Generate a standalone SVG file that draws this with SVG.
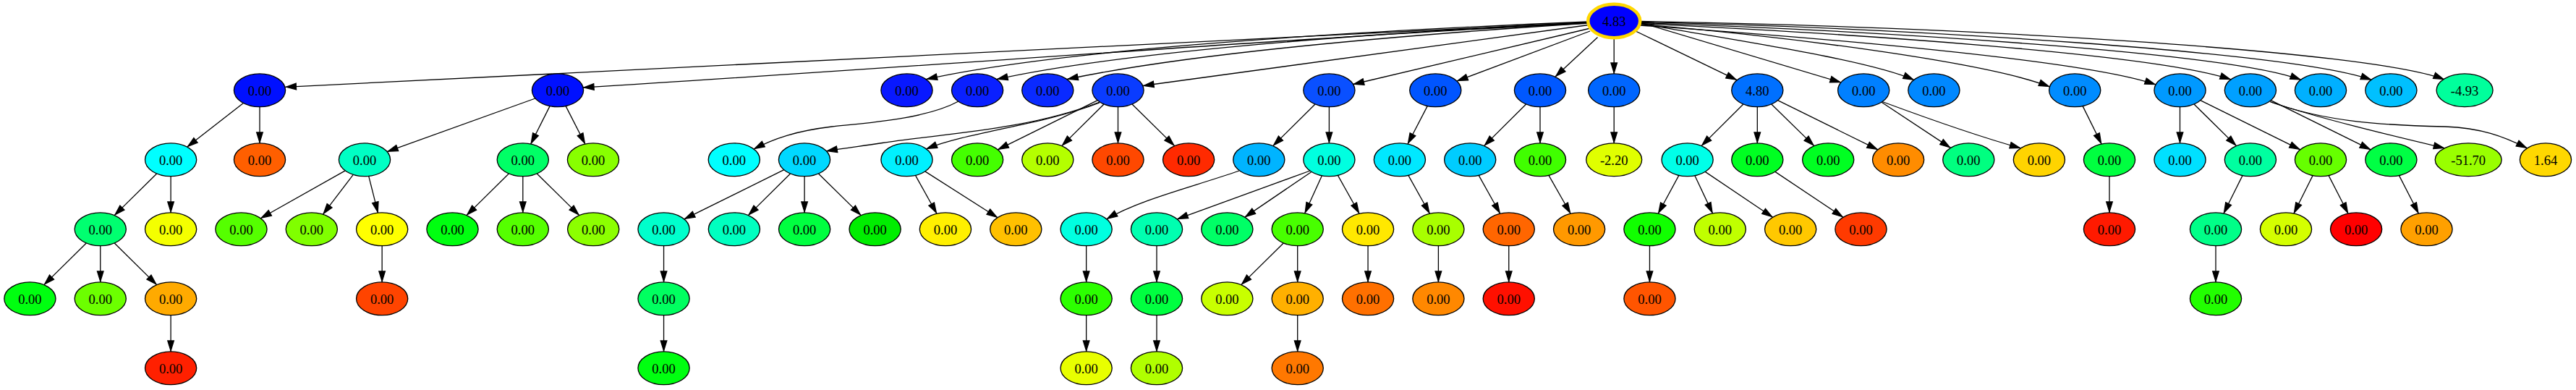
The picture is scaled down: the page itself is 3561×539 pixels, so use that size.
<svg xmlns="http://www.w3.org/2000/svg" width="3561" height="539" viewBox="0 0 3561 539">
<style>
.node ellipse{stroke:#000;stroke-width:1.3}
.node text{font-family:"Liberation Serif","Times New Roman",serif;font-size:18.5px;text-anchor:middle;fill:#000}
#edges path{fill:none;stroke:#000;stroke-width:1.3;marker-end:url(#arr)}
#n0 ellipse{stroke:#ffd700;stroke-width:4.5}
</style>
<defs>
<marker id="arr" markerUnits="userSpaceOnUse" markerWidth="18" markerHeight="12" viewBox="-16 -6 18 12" refX="0" refY="0" orient="auto">
<path d="M-15,-4.3 L-1.2,0 L-15,4.3 z" fill="#000" stroke="#000" stroke-width="1.3"/>
</marker>
</defs>
<rect width="3561" height="539" fill="#fff"/>
<g id="edges">
<!-- root to rank1 -->
<path d="M2195.5,31 L394.4,120.3"/>
<path d="M2195.5,32 C1800,51.5 1300,90.5 806,121"/>
<path d="M2195.5,30 C1800,46 1450,72 1280.5,109.5"/>
<path d="M2195.5,31 C1850,48 1540,74 1378,109.5"/>
<path d="M2195.5,32 C1900,51 1630,77 1475.2,109.5"/>
<path d="M2196,34.5 L1580,118.5"/>
<path d="M2196.5,39.5 L1870.5,116.5"/>
<path d="M2198,43 L2014,112"/>
<path d="M2208.5,51.5 L2150,106"/>
<path d="M2231.2,52.2 L2231.2,101.9"/>
<path d="M2261,43 L2401,110.6"/>
<path d="M2267,31 L2545,114"/>
<path d="M2267,32.5 C2400,56 2580,82 2646,110.5"/>
<path d="M2267,33.5 C2480,51 2750,87 2833.5,120"/>
<path d="M2267,35 C2500,51 2880,82 2980,117"/>
<path d="M2267,32.5 C2550,46 2980,74 3084,110"/>
<path d="M2267,31.5 C2600,43 3080,72 3181,110.5"/>
<path d="M2267,30.5 C2650,39 3170,72 3278.5,110.5"/>
<path d="M2267,29.5 C2700,36 3280,70 3379,110"/>
<!-- rank1 to rank2 -->
<path d="M336.4,142.5 L258.7,203.1"/>
<path d="M359,147.7 L359,197.9"/>
<path d="M739.9,136 L535.1,209.6"/>
<path d="M760.1,146.6 L733.7,199"/>
<path d="M782.1,146.6 L808.9,199"/>
<path d="M1326,139.5 C1280,164.6 1200,169.8 1150,175 C1100,181 1070,191.4 1042,206"/>
<path d="M1520,141 C1420,180 1300,185 1220,197.5 C1190,202 1165,205 1142.3,208.8"/>
<path d="M1520,142 C1440,173 1340,182 1280.4,205.8"/>
<path d="M1517.3,138.7 L1379.3,206.9"/>
<path d="M1526,144 L1467.8,201.6"/>
<path d="M1545.5,147.7 L1545.5,197.9"/>
<path d="M1565,144 L1623.6,201.6"/>
<path d="M1818,144 L1759.8,201.6"/>
<path d="M1837.4,147.7 L1837.4,197.9"/>
<path d="M1973.2,146.6 L1946,199"/>
<path d="M2109.6,144 L2051.6,201.6"/>
<path d="M2129,147.7 L2129,197.9"/>
<path d="M2231.2,147.7 L2231.2,197.9"/>
<path d="M2409.9,144 L2352,201.6"/>
<path d="M2429.3,147.7 L2429.3,197.9"/>
<path d="M2448.8,144 L2507.8,201.6"/>
<path d="M2457.5,138.7 L2595.9,206.9"/>
<path d="M2601,141.2 L2696.5,204.4"/>
<path d="M2602,140.5 C2660,162 2740,190 2793.4,204.8"/>
<path d="M2879.1,146.6 L2905.1,199"/>
<path d="M3013.5,147.7 L3013.5,197.9"/>
<path d="M3033,144 L3091.5,201.6"/>
<path d="M3041.7,138.7 L3179.8,206.9"/>
<path d="M3139.1,138.7 L3277.2,206.9"/>
<path d="M3138,140.5 C3200,162 3300,186 3379.3,204.8"/>
<path d="M3139,141 C3220,170 3300,173 3380,175 C3430,177 3460,188 3493.5,204.8"/>
<!-- rank2 to rank3 -->
<path d="M216.65,240 L158.2,297.6"/>
<path d="M236.1,243.7 L236.1,293.9"/>
<path d="M477.2,235.9 L360.25,301.7"/>
<path d="M488.3,241.4 L446.5,296.2"/>
<path d="M509.7,243.4 L522.5,294.2"/>
<path d="M703.35,240 L644.95,297.6"/>
<path d="M722.8,243.7 L722.8,293.9"/>
<path d="M742.25,240 L800.75,297.6"/>
<path d="M1083.8,234.7 L945.8,302.9"/>
<path d="M1092.55,240 L1034.35,297.6"/>
<path d="M1112.1,243.7 L1112.1,293.9"/>
<path d="M1131.45,240 L1190.15,297.6"/>
<path d="M1265.5,242.4 L1294.95,295.2"/>
<path d="M1278.8,236.9 L1379,300.7"/>
<path d="M1713,236 C1650,258 1575,276 1529.8,302.8"/>
<path d="M1811,236 L1627.2,302.8"/>
<path d="M1812.95,237.45 L1720.8,300.15"/>
<path d="M1827.4,242.8 L1803.7,294.8"/>
<path d="M1849.4,242.4 L1879.05,295.2"/>
<path d="M1946.9,242.4 L1976.4,295.2"/>
<path d="M2044.2,242.4 L2073.75,295.2"/>
<path d="M2141,242.4 L2171.1,295.2"/>
<path d="M2320.85,242.4 L2292.2,295.2"/>
<path d="M2342.9,242.7 L2367.5,294.9"/>
<path d="M2357.2,237.35 L2450.55,300.25"/>
<path d="M2453.9,237.35 L2547.9,300.25"/>
<path d="M2916,243.7 L2916,293.9"/>
<path d="M3100,242.6 L3073.9,295"/>
<path d="M3197.1,242.6 L3170.9,295"/>
<path d="M3219.1,242.6 L3246,295"/>
<path d="M3316.5,242.6 L3343.4,295"/>
<!-- rank3 to rank4 -->
<path d="M119.3,336 L60.85,393.6"/>
<path d="M138.75,339.7 L138.75,389.9"/>
<path d="M158.2,336 L216.65,393.6"/>
<path d="M528.15,339.7 L528.15,389.9"/>
<path d="M917.55,339.7 L917.55,389.9"/>
<path d="M1501.65,339.7 L1501.65,389.9"/>
<path d="M1599,339.7 L1599,389.9"/>
<path d="M1774.25,336 L1715.8,393.6"/>
<path d="M1793.7,339.7 L1793.7,389.9"/>
<path d="M1891.05,339.7 L1891.05,389.9"/>
<path d="M1988.4,339.7 L1988.4,389.9"/>
<path d="M2085.75,339.7 L2085.75,389.9"/>
<path d="M2280.45,339.7 L2280.45,389.9"/>
<path d="M3063,339.7 L3063,389.9"/>
<!-- rank4 to rank5 -->
<path d="M236.1,435.7 L236.1,485.9"/>
<path d="M917.55,435.7 L917.55,485.9"/>
<path d="M1501.65,435.7 L1501.65,485.9"/>
<path d="M1599,435.7 L1599,485.9"/>
<path d="M1793.7,435.7 L1793.7,485.9"/>
</g>
<g id="n0" class="node"><ellipse cx="2231.2" cy="29" rx="36" ry="23.2" fill="#0000ff"/><text x="2231.2" y="35.8">4.83</text></g>
<g id="n1" class="node"><ellipse cx="359" cy="124.8" rx="35.6" ry="22.9" fill="#0010ff"/><text x="359" y="131.6">0.00</text></g>
<g id="n2" class="node"><ellipse cx="771" cy="124.8" rx="35.6" ry="22.9" fill="#0010ff"/><text x="771" y="131.6">0.00</text></g>
<g id="n3" class="node"><ellipse cx="1253.5" cy="124.8" rx="35.6" ry="22.9" fill="#0818ff"/><text x="1253.5" y="131.6">0.00</text></g>
<g id="n4" class="node"><ellipse cx="1351.1" cy="124.8" rx="35.6" ry="22.9" fill="#0a20ff"/><text x="1351.1" y="131.6">0.00</text></g>
<g id="n5" class="node"><ellipse cx="1448.3" cy="124.8" rx="35.6" ry="22.9" fill="#0a2aff"/><text x="1448.3" y="131.6">0.00</text></g>
<g id="n6" class="node"><ellipse cx="1545.5" cy="124.8" rx="35.6" ry="22.9" fill="#0a3cff"/><text x="1545.5" y="131.6">0.00</text></g>
<g id="n7" class="node"><ellipse cx="1837.4" cy="124.8" rx="35.6" ry="22.9" fill="#0a50ff"/><text x="1837.4" y="131.6">0.00</text></g>
<g id="n8" class="node"><ellipse cx="1984.3" cy="124.8" rx="35.6" ry="22.9" fill="#0055ff"/><text x="1984.3" y="131.6">0.00</text></g>
<g id="n9" class="node"><ellipse cx="2129" cy="124.8" rx="35.6" ry="22.9" fill="#0058ff"/><text x="2129" y="131.6">0.00</text></g>
<g id="n10" class="node"><ellipse cx="2231.2" cy="124.8" rx="35.6" ry="22.9" fill="#0066ff"/><text x="2231.2" y="131.6">0.00</text></g>
<g id="n11" class="node"><ellipse cx="2429.3" cy="124.8" rx="35.6" ry="22.9" fill="#0070ff"/><text x="2429.3" y="131.6">4.80</text></g>
<g id="n12" class="node"><ellipse cx="2576.2" cy="124.8" rx="35.6" ry="22.9" fill="#0080ff"/><text x="2576.2" y="131.6">0.00</text></g>
<g id="n13" class="node"><ellipse cx="2673.4" cy="124.8" rx="35.6" ry="22.9" fill="#0088ff"/><text x="2673.4" y="131.6">0.00</text></g>
<g id="n14" class="node"><ellipse cx="2868.2" cy="124.8" rx="35.6" ry="22.9" fill="#008cff"/><text x="2868.2" y="131.6">0.00</text></g>
<g id="n15" class="node"><ellipse cx="3013.5" cy="124.8" rx="35.6" ry="22.9" fill="#0099ff"/><text x="3013.5" y="131.6">0.00</text></g>
<g id="n16" class="node"><ellipse cx="3110.9" cy="124.8" rx="35.6" ry="22.9" fill="#00a0ff"/><text x="3110.9" y="131.6">0.00</text></g>
<g id="n17" class="node"><ellipse cx="3208" cy="124.8" rx="35.6" ry="22.9" fill="#00b0ff"/><text x="3208" y="131.6">0.00</text></g>
<g id="n18" class="node"><ellipse cx="3305.4" cy="124.8" rx="35.6" ry="22.9" fill="#00c0ff"/><text x="3305.4" y="131.6">0.00</text></g>
<g id="n19" class="node"><ellipse cx="3407.1" cy="124.8" rx="39" ry="22.9" fill="#00ff9c"/><text x="3407.1" y="131.6">-4.93</text></g>
<g id="n20" class="node"><ellipse cx="236.1" cy="220.8" rx="35.6" ry="22.9" fill="#00ffff"/><text x="236.1" y="227.6">0.00</text></g>
<g id="n21" class="node"><ellipse cx="359" cy="220.8" rx="35.6" ry="22.9" fill="#ff5f00"/><text x="359" y="227.6">0.00</text></g>
<g id="n22" class="node"><ellipse cx="504" cy="220.8" rx="35.6" ry="22.9" fill="#00ffc4"/><text x="504" y="227.6">0.00</text></g>
<g id="n23" class="node"><ellipse cx="722.8" cy="220.8" rx="35.6" ry="22.9" fill="#00ff66"/><text x="722.8" y="227.6">0.00</text></g>
<g id="n24" class="node"><ellipse cx="820" cy="220.8" rx="35.6" ry="22.9" fill="#88ff00"/><text x="820" y="227.6">0.00</text></g>
<g id="n25" class="node"><ellipse cx="1014.8" cy="220.8" rx="35.6" ry="22.9" fill="#00ffff"/><text x="1014.8" y="227.6">0.00</text></g>
<g id="n26" class="node"><ellipse cx="1112" cy="220.8" rx="35.6" ry="22.9" fill="#00d8ff"/><text x="1112" y="227.6">0.00</text></g>
<g id="n27" class="node"><ellipse cx="1253.5" cy="220.8" rx="35.6" ry="22.9" fill="#00f0ff"/><text x="1253.5" y="227.6">0.00</text></g>
<g id="n28" class="node"><ellipse cx="1351.1" cy="220.8" rx="35.6" ry="22.9" fill="#44ff00"/><text x="1351.1" y="227.6">0.00</text></g>
<g id="n29" class="node"><ellipse cx="1448.3" cy="220.8" rx="35.6" ry="22.9" fill="#b4ff00"/><text x="1448.3" y="227.6">0.00</text></g>
<g id="n30" class="node"><ellipse cx="1545.5" cy="220.8" rx="35.6" ry="22.9" fill="#ff4800"/><text x="1545.5" y="227.6">0.00</text></g>
<g id="n31" class="node"><ellipse cx="1643.1" cy="220.8" rx="35.6" ry="22.9" fill="#ff2a00"/><text x="1643.1" y="227.6">0.00</text></g>
<g id="n32" class="node"><ellipse cx="1740.3" cy="220.8" rx="35.6" ry="22.9" fill="#00b4ff"/><text x="1740.3" y="227.6">0.00</text></g>
<g id="n33" class="node"><ellipse cx="1837.4" cy="220.8" rx="35.6" ry="22.9" fill="#00ffe0"/><text x="1837.4" y="227.6">0.00</text></g>
<g id="n34" class="node"><ellipse cx="1934.9" cy="220.8" rx="35.6" ry="22.9" fill="#00e8ff"/><text x="1934.9" y="227.6">0.00</text></g>
<g id="n35" class="node"><ellipse cx="2032.2" cy="220.8" rx="35.6" ry="22.9" fill="#00ccff"/><text x="2032.2" y="227.6">0.00</text></g>
<g id="n36" class="node"><ellipse cx="2129" cy="220.8" rx="35.6" ry="22.9" fill="#40ff00"/><text x="2129" y="227.6">0.00</text></g>
<g id="n37" class="node"><ellipse cx="2231.2" cy="220.8" rx="38.5" ry="22.9" fill="#e0ff00"/><text x="2231.2" y="227.6">-2.20</text></g>
<g id="n38" class="node"><ellipse cx="2332.6" cy="220.8" rx="35.6" ry="22.9" fill="#00ffe8"/><text x="2332.6" y="227.6">0.00</text></g>
<g id="n39" class="node"><ellipse cx="2429.3" cy="220.8" rx="35.6" ry="22.9" fill="#00ff22"/><text x="2429.3" y="227.6">0.00</text></g>
<g id="n40" class="node"><ellipse cx="2527.2" cy="220.8" rx="35.6" ry="22.9" fill="#00ff22"/><text x="2527.2" y="227.6">0.00</text></g>
<g id="n41" class="node"><ellipse cx="2624.1" cy="220.8" rx="35.6" ry="22.9" fill="#ff8c00"/><text x="2624.1" y="227.6">0.00</text></g>
<g id="n42" class="node"><ellipse cx="2721.3" cy="220.8" rx="35.6" ry="22.9" fill="#00ff80"/><text x="2721.3" y="227.6">0.00</text></g>
<g id="n43" class="node"><ellipse cx="2818.9" cy="220.8" rx="35.6" ry="22.9" fill="#ffd400"/><text x="2818.9" y="227.6">0.00</text></g>
<g id="n44" class="node"><ellipse cx="2916" cy="220.8" rx="35.6" ry="22.9" fill="#00ff40"/><text x="2916" y="227.6">0.00</text></g>
<g id="n45" class="node"><ellipse cx="3013.5" cy="220.8" rx="35.6" ry="22.9" fill="#00e0ff"/><text x="3013.5" y="227.6">0.00</text></g>
<g id="n46" class="node"><ellipse cx="3110.9" cy="220.8" rx="35.6" ry="22.9" fill="#00ffa0"/><text x="3110.9" y="227.6">0.00</text></g>
<g id="n47" class="node"><ellipse cx="3208" cy="220.8" rx="35.6" ry="22.9" fill="#66ff00"/><text x="3208" y="227.6">0.00</text></g>
<g id="n48" class="node"><ellipse cx="3305.4" cy="220.8" rx="35.6" ry="22.9" fill="#00ff44"/><text x="3305.4" y="227.6">0.00</text></g>
<g id="n49" class="node"><ellipse cx="3412.2" cy="220.8" rx="46" ry="22.9" fill="#99ff00"/><text x="3412.2" y="227.6">-51.70</text></g>
<g id="n50" class="node"><ellipse cx="3519" cy="220.8" rx="35.6" ry="22.9" fill="#ffd800"/><text x="3519" y="227.6">1.64</text></g>
<g id="n51" class="node"><ellipse cx="138.75" cy="316.8" rx="35.6" ry="22.9" fill="#00ff70"/><text x="138.75" y="323.6">0.00</text></g>
<g id="n52" class="node"><ellipse cx="236.1" cy="316.8" rx="35.6" ry="22.9" fill="#f4ff00"/><text x="236.1" y="323.6">0.00</text></g>
<g id="n53" class="node"><ellipse cx="333.45" cy="316.8" rx="35.6" ry="22.9" fill="#55ff00"/><text x="333.45" y="323.6">0.00</text></g>
<g id="n54" class="node"><ellipse cx="430.8" cy="316.8" rx="35.6" ry="22.9" fill="#80ff00"/><text x="430.8" y="323.6">0.00</text></g>
<g id="n55" class="node"><ellipse cx="528.15" cy="316.8" rx="35.6" ry="22.9" fill="#ffff00"/><text x="528.15" y="323.6">0.00</text></g>
<g id="n56" class="node"><ellipse cx="625.5" cy="316.8" rx="35.6" ry="22.9" fill="#00ff10"/><text x="625.5" y="323.6">0.00</text></g>
<g id="n57" class="node"><ellipse cx="722.8" cy="316.8" rx="35.6" ry="22.9" fill="#55ff00"/><text x="722.8" y="323.6">0.00</text></g>
<g id="n58" class="node"><ellipse cx="820.2" cy="316.8" rx="35.6" ry="22.9" fill="#8cff00"/><text x="820.2" y="323.6">0.00</text></g>
<g id="n59" class="node"><ellipse cx="917.55" cy="316.8" rx="35.6" ry="22.9" fill="#00ffcc"/><text x="917.55" y="323.6">0.00</text></g>
<g id="n60" class="node"><ellipse cx="1014.9" cy="316.8" rx="35.6" ry="22.9" fill="#00ffc0"/><text x="1014.9" y="323.6">0.00</text></g>
<g id="n61" class="node"><ellipse cx="1112.1" cy="316.8" rx="35.6" ry="22.9" fill="#00ff40"/><text x="1112.1" y="323.6">0.00</text></g>
<g id="n62" class="node"><ellipse cx="1209.6" cy="316.8" rx="35.6" ry="22.9" fill="#00ee00"/><text x="1209.6" y="323.6">0.00</text></g>
<g id="n63" class="node"><ellipse cx="1306.95" cy="316.8" rx="35.6" ry="22.9" fill="#fff000"/><text x="1306.95" y="323.6">0.00</text></g>
<g id="n64" class="node"><ellipse cx="1404.3" cy="316.8" rx="35.6" ry="22.9" fill="#ffc000"/><text x="1404.3" y="323.6">0.00</text></g>
<g id="n65" class="node"><ellipse cx="1501.65" cy="316.8" rx="35.6" ry="22.9" fill="#00ffe0"/><text x="1501.65" y="323.6">0.00</text></g>
<g id="n66" class="node"><ellipse cx="1599" cy="316.8" rx="35.6" ry="22.9" fill="#00ffb0"/><text x="1599" y="323.6">0.00</text></g>
<g id="n67" class="node"><ellipse cx="1696.35" cy="316.8" rx="35.6" ry="22.9" fill="#00ff66"/><text x="1696.35" y="323.6">0.00</text></g>
<g id="n68" class="node"><ellipse cx="1793.7" cy="316.8" rx="35.6" ry="22.9" fill="#48ff00"/><text x="1793.7" y="323.6">0.00</text></g>
<g id="n69" class="node"><ellipse cx="1891.05" cy="316.8" rx="35.6" ry="22.9" fill="#ffe800"/><text x="1891.05" y="323.6">0.00</text></g>
<g id="n70" class="node"><ellipse cx="1988.4" cy="316.8" rx="35.6" ry="22.9" fill="#a8ff00"/><text x="1988.4" y="323.6">0.00</text></g>
<g id="n71" class="node"><ellipse cx="2085.75" cy="316.8" rx="35.6" ry="22.9" fill="#ff6600"/><text x="2085.75" y="323.6">0.00</text></g>
<g id="n72" class="node"><ellipse cx="2183.1" cy="316.8" rx="35.6" ry="22.9" fill="#ff9900"/><text x="2183.1" y="323.6">0.00</text></g>
<g id="n73" class="node"><ellipse cx="2280.45" cy="316.8" rx="35.6" ry="22.9" fill="#11ff00"/><text x="2280.45" y="323.6">0.00</text></g>
<g id="n74" class="node"><ellipse cx="2377.8" cy="316.8" rx="35.6" ry="22.9" fill="#c0ff00"/><text x="2377.8" y="323.6">0.00</text></g>
<g id="n75" class="node"><ellipse cx="2475.15" cy="316.8" rx="35.6" ry="22.9" fill="#ffc800"/><text x="2475.15" y="323.6">0.00</text></g>
<g id="n76" class="node"><ellipse cx="2572.5" cy="316.8" rx="35.6" ry="22.9" fill="#ff3a00"/><text x="2572.5" y="323.6">0.00</text></g>
<g id="n77" class="node"><ellipse cx="2916" cy="316.8" rx="35.6" ry="22.9" fill="#ff1a00"/><text x="2916" y="323.6">0.00</text></g>
<g id="n78" class="node"><ellipse cx="3063" cy="316.8" rx="35.6" ry="22.9" fill="#00ff88"/><text x="3063" y="323.6">0.00</text></g>
<g id="n79" class="node"><ellipse cx="3160" cy="316.8" rx="35.6" ry="22.9" fill="#d4ff00"/><text x="3160" y="323.6">0.00</text></g>
<g id="n80" class="node"><ellipse cx="3257.1" cy="316.8" rx="35.6" ry="22.9" fill="#ff0000"/><text x="3257.1" y="323.6">0.00</text></g>
<g id="n81" class="node"><ellipse cx="3354.5" cy="316.8" rx="35.6" ry="22.9" fill="#ffa000"/><text x="3354.5" y="323.6">0.00</text></g>
<g id="n82" class="node"><ellipse cx="41.4" cy="412.8" rx="35.6" ry="22.9" fill="#00ff10"/><text x="41.4" y="419.6">0.00</text></g>
<g id="n83" class="node"><ellipse cx="138.75" cy="412.8" rx="35.6" ry="22.9" fill="#6cff00"/><text x="138.75" y="419.6">0.00</text></g>
<g id="n84" class="node"><ellipse cx="236.1" cy="412.8" rx="35.6" ry="22.9" fill="#ffaa00"/><text x="236.1" y="419.6">0.00</text></g>
<g id="n85" class="node"><ellipse cx="528.15" cy="412.8" rx="35.6" ry="22.9" fill="#ff4400"/><text x="528.15" y="419.6">0.00</text></g>
<g id="n86" class="node"><ellipse cx="917.55" cy="412.8" rx="35.6" ry="22.9" fill="#00ff60"/><text x="917.55" y="419.6">0.00</text></g>
<g id="n87" class="node"><ellipse cx="1501.65" cy="412.8" rx="35.6" ry="22.9" fill="#2cff00"/><text x="1501.65" y="419.6">0.00</text></g>
<g id="n88" class="node"><ellipse cx="1599" cy="412.8" rx="35.6" ry="22.9" fill="#00ff40"/><text x="1599" y="419.6">0.00</text></g>
<g id="n89" class="node"><ellipse cx="1696.35" cy="412.8" rx="35.6" ry="22.9" fill="#c8ff00"/><text x="1696.35" y="419.6">0.00</text></g>
<g id="n90" class="node"><ellipse cx="1793.7" cy="412.8" rx="35.6" ry="22.9" fill="#ffb000"/><text x="1793.7" y="419.6">0.00</text></g>
<g id="n91" class="node"><ellipse cx="1891.05" cy="412.8" rx="35.6" ry="22.9" fill="#ff7000"/><text x="1891.05" y="419.6">0.00</text></g>
<g id="n92" class="node"><ellipse cx="1988.4" cy="412.8" rx="35.6" ry="22.9" fill="#ff8800"/><text x="1988.4" y="419.6">0.00</text></g>
<g id="n93" class="node"><ellipse cx="2085.75" cy="412.8" rx="35.6" ry="22.9" fill="#ff1000"/><text x="2085.75" y="419.6">0.00</text></g>
<g id="n94" class="node"><ellipse cx="2280.45" cy="412.8" rx="35.6" ry="22.9" fill="#ff5500"/><text x="2280.45" y="419.6">0.00</text></g>
<g id="n95" class="node"><ellipse cx="3063" cy="412.8" rx="35.6" ry="22.9" fill="#22ff00"/><text x="3063" y="419.6">0.00</text></g>
<g id="n96" class="node"><ellipse cx="236.1" cy="508.8" rx="35.6" ry="22.9" fill="#ff2000"/><text x="236.1" y="515.6">0.00</text></g>
<g id="n97" class="node"><ellipse cx="917.55" cy="508.8" rx="35.6" ry="22.9" fill="#00ff10"/><text x="917.55" y="515.6">0.00</text></g>
<g id="n98" class="node"><ellipse cx="1501.65" cy="508.8" rx="35.6" ry="22.9" fill="#e8ff00"/><text x="1501.65" y="515.6">0.00</text></g>
<g id="n99" class="node"><ellipse cx="1599" cy="508.8" rx="35.6" ry="22.9" fill="#b0ff00"/><text x="1599" y="515.6">0.00</text></g>
<g id="n100" class="node"><ellipse cx="1793.7" cy="508.8" rx="35.6" ry="22.9" fill="#ff7800"/><text x="1793.7" y="515.6">0.00</text></g>
</svg>
